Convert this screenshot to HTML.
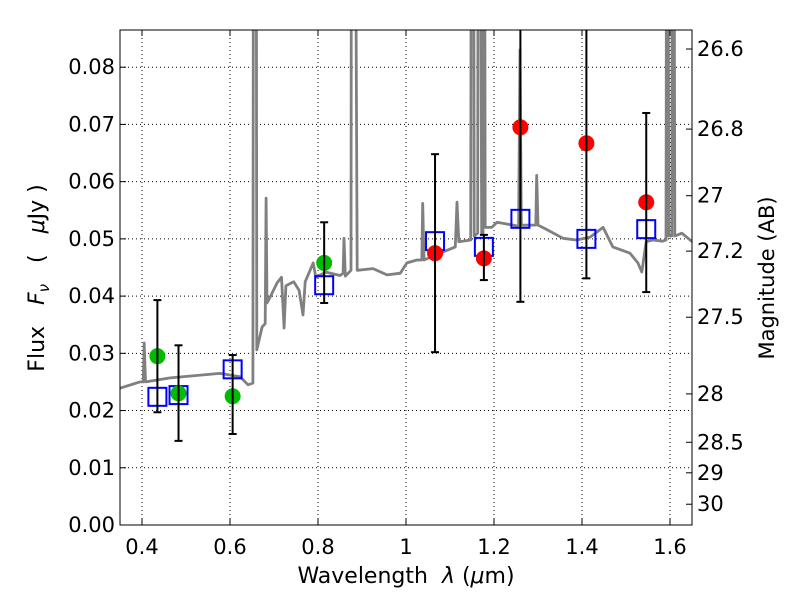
<!DOCTYPE html>
<html><head><meta charset="utf-8"><style>
body{margin:0;background:#fff;}
svg text{font-family:"DejaVu Sans","Liberation Sans",sans-serif;}
</style></head><body>
<svg id="chart" width="800" height="600" xmlns="http://www.w3.org/2000/svg">
<defs><clipPath id="plotclip"><rect x="120" y="30" width="572" height="495"/></clipPath></defs>
<rect x="0" y="0" width="800" height="600" fill="#fff"/>
<g id="grid"></g>
<g id="spec" clip-path="url(#plotclip)"></g>
<g id="marks" clip-path="url(#plotclip)"></g>
<g id="axes"></g>
<text x="406" y="583" font-size="22" text-anchor="middle" xml:space="preserve">Wavelength  <tspan font-style="italic">λ</tspan> (<tspan font-style="italic">μ</tspan>m)</text>
<text transform="translate(44,278) rotate(-90)" font-size="22" text-anchor="middle" xml:space="preserve">Flux   <tspan font-style="italic">F</tspan><tspan font-style="italic" font-size="15" dy="5">ν</tspan><tspan dy="-5">   (   </tspan><tspan font-style="italic">μ</tspan>Jy )</text>
<text transform="translate(774,278) rotate(-90)" font-size="21" text-anchor="middle">Magnitude (AB)</text>
</svg>
<script>
const specWave=[0.35,0.395,0.403,0.405,0.408,0.464,0.577,0.623,0.641,0.652,0.6545,0.6565,0.6585,0.661,0.673,0.680,0.682,0.684,0.689,0.707,0.717,0.723,0.727,0.745,0.757,0.766,0.771,0.789,0.795,0.818,0.85,0.857,0.859,0.862,0.875,0.877,0.880,0.889,0.925,0.957,0.987,1.002,1.025,1.036,1.038,1.041,1.077,1.112,1.116,1.120,1.147,1.150,1.152,1.155,1.163,1.165,1.172,1.175,1.177,1.180,1.195,1.207,1.243,1.256,1.259,1.262,1.283,1.295,1.297,1.300,1.316,1.357,1.387,1.418,1.448,1.47,1.509,1.527,1.536,1.546,1.561,1.583,1.591,1.594,1.597,1.604,1.607,1.611,1.627,1.652];
const specFlux=[0.0239,0.025,0.025,0.0318,0.025,0.0257,0.0265,0.0259,0.0245,0.0248,0.2,0.2,0.2,0.0306,0.0346,0.0352,0.0571,0.0388,0.0395,0.0423,0.0433,0.0344,0.0418,0.0425,0.041,0.0367,0.0425,0.0458,0.0433,0.0442,0.0436,0.044,0.0501,0.0435,0.0445,0.2,0.2,0.0445,0.0448,0.0437,0.044,0.0458,0.0463,0.0463,0.0562,0.0463,0.0475,0.0486,0.0564,0.0495,0.0498,0.2,0.2,0.0505,0.051,0.2,0.051,0.051,0.2,0.052,0.052,0.0529,0.0524,0.0522,0.083,0.0524,0.0524,0.0524,0.0611,0.0524,0.0518,0.0501,0.0498,0.0503,0.052,0.0486,0.0475,0.0458,0.0442,0.0495,0.0498,0.0496,0.0498,0.2,0.0505,0.0505,0.2,0.0505,0.051,0.0494];
const photWave=[0.435,0.483,0.606,0.814,1.066,1.177,1.26,1.41,1.546];
const photFlux=[0.0295,0.023,0.0225,0.0458,0.0475,0.0466,0.0695,0.0667,0.0564];
const photErrHi=[0.0393,0.0314,0.0297,0.0529,0.0648,0.0507,0.1,0.1,0.072];
const photErrLo=[0.0197,0.0147,0.0159,0.0388,0.0302,0.0428,0.039,0.0431,0.0407];
const photColor=['#00bb00','#00bb00','#00bb00','#00bb00','#ff0000','#ff0000','#ff0000','#ff0000','#ff0000'];
const modelFlux=[0.0224,0.0227,0.0272,0.0419,0.0496,0.0486,0.0535,0.05,0.0517];
const xTicks=[0.4,0.6,0.8,1.0,1.2,1.4,1.6];
const xTickLabels=['0.4','0.6','0.8','1','1.2','1.4','1.6'];
const yTicks=[0,0.01,0.02,0.03,0.04,0.05,0.06,0.07,0.08];
const yTickLabels=['0.00','0.01','0.02','0.03','0.04','0.05','0.06','0.07','0.08'];
const magTicks=[26.6,26.8,27,27.2,27.5,28,28.5,29,30];
const magTickLabels=['26.6','26.8','27','27.2','27.5','28','28.5','29','30'];

const X0=120,X1=692,Y0=525,Y1=30,xmin=0.35,xmax=1.65,ymin=0,ymax=0.0865;
function sx(v){return X0+(v-xmin)/(xmax-xmin)*(X1-X0);}
function sy(v){return Y0-(v-ymin)/(ymax-ymin)*(Y0-Y1);}
function magToFlux(m){return Math.pow(10,(23.9-m)/2.5);}
const NS='http://www.w3.org/2000/svg';
function mk(tag,attrs,parent){const e=document.createElementNS(NS,tag);for(const k in attrs)e.setAttribute(k,attrs[k]);parent.appendChild(e);return e;}
const grid=document.getElementById('grid'),spec=document.getElementById('spec'),marks=document.getElementById('marks'),axes=document.getElementById('axes');

xTicks.forEach((t,i)=>{const x=sx(t);
 const g=mk('line',{x1:x,x2:x,y1:Y1,y2:Y0,stroke:'#000','stroke-width':1,'stroke-dasharray':'1,3'},grid);
 
 const tk=mk('line',{x1:x,x2:x,y1:Y0,y2:Y0-6,stroke:'#000','stroke-width':1},axes);
 
 const tk2=mk('line',{x1:x,x2:x,y1:Y1,y2:Y1+6,stroke:'#000','stroke-width':1},axes);
 
 const tl=mk('text',{x:x,y:554,'font-size':21,'text-anchor':'middle'},axes);tl.textContent=xTickLabels[i];
 
});
yTicks.forEach((t,i)=>{const y=sy(t);
 if(t>0){const g=mk('line',{x1:X0,x2:X1,y1:y,y2:y,stroke:'#000','stroke-width':1,'stroke-dasharray':'1,3'},grid);
 }
 const tk=mk('line',{x1:X0,x2:X0+6,y1:y,y2:y,stroke:'#000','stroke-width':1},axes);
 
 const tl=mk('text',{x:115,y:y+7,'font-size':21,'text-anchor':'end'},axes);tl.textContent=yTickLabels[i];
 
});
magTicks.forEach((m,i)=>{const y=sy(magToFlux(m));
 const tk=mk('line',{x1:X1,x2:X1-6,y1:y,y2:y,stroke:'#000','stroke-width':1},axes);
 
 const tl=mk('text',{x:697,y:y+7,'font-size':21,'text-anchor':'start'},axes);tl.textContent=magTickLabels[i];
 
});

let d='';specWave.forEach((w,i)=>{d+=(i?'L':'M')+sx(w).toFixed(1)+','+sy(specFlux[i]).toFixed(1);});
const sp=mk('path',{d:d,fill:'none',stroke:'#808080','stroke-width':2.8,'stroke-linejoin':'round'},spec);


photWave.forEach((w,i)=>{const x=sx(w);
 const sq=mk('rect',{x:x-9,y:sy(modelFlux[i])-9,width:18,height:18,fill:'none',stroke:'#0000ff','stroke-width':2},marks);
 
 const c=mk('circle',{cx:x,cy:sy(photFlux[i]),r:8,fill:photColor[i]},marks);
 
 const eb=mk('line',{x1:x,x2:x,y1:sy(photErrHi[i]),y2:sy(photErrLo[i]),stroke:'#000','stroke-width':2},marks);
 
 [photErrHi[i],photErrLo[i]].forEach(v=>{const cap=mk('line',{x1:x-4,x2:x+4,y1:sy(v),y2:sy(v),stroke:'#000','stroke-width':2},marks);
  });
});
const fr=mk('rect',{x:X0,y:Y1,width:X1-X0,height:Y0-Y1,fill:'none',stroke:'#000','stroke-width':1},axes);

</script>
</body></html>
